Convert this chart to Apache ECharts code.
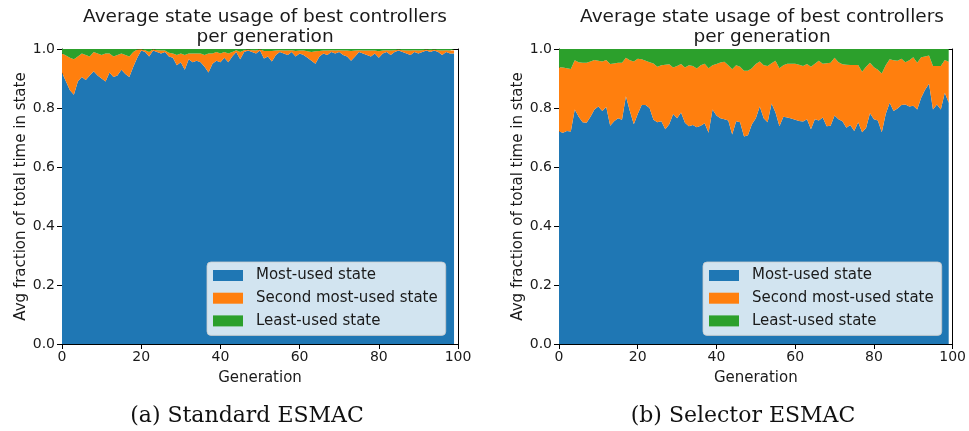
<!DOCTYPE html>
<html>
<head>
<meta charset="utf-8">
<script src="https://cdn.jsdelivr.net/npm/echarts@6/dist/echarts.min.js"></script>
<style>
html,body{margin:0;padding:0;background:#fff;}
#chart{width:969px;height:431px;}
</style>
</head>
<body>
<div id="chart"></div>
<script>
// ---- data ----
const seriesNames = ['Most-used state', 'Second most-used state', 'Least-used state'];
const xTickStep = 20;
const yTicks = [0.0, 0.2, 0.4, 0.6, 0.8, 1.0];
// generation categories 0..100 (data exists for 0..99)
const generations = Array.from({length: 101}, (_, i) => String(i));

// (a) Standard ESMAC
const stdMost = [0.92,0.89,0.86,0.845,0.89,0.905,0.895,0.91,0.925,0.91,0.9,0.89,0.92,0.905,0.91,0.93,0.915,0.905,0.94,0.97,
0.995,0.99,0.975,0.995,0.99,0.985,0.99,0.975,0.97,0.945,0.955,0.93,0.965,0.955,0.96,0.955,0.94,0.92,0.95,0.96,
0.955,0.97,0.955,0.975,0.99,0.965,0.99,0.995,0.99,0.985,0.995,0.968,0.975,0.958,0.98,0.99,0.985,0.98,0.99,0.975,
0.985,0.98,0.97,0.96,0.95,0.975,0.985,0.98,0.99,0.985,0.99,0.98,0.975,0.96,0.975,0.99,0.985,0.98,0.975,0.985,
0.97,0.985,0.99,0.98,0.99,0.995,0.99,0.985,0.98,0.99,0.985,0.99,0.995,0.99,0.995,0.99,0.98,0.99,0.985,0.985];
const stdSecond = [0.065,0.088,0.11,0.12,0.085,0.08,0.085,0.065,0.065,0.075,0.08,0.095,0.065,0.07,0.07,0.055,0.065,0.07,0.05,0.028,
0.004,0.006,0.015,0.004,0.006,0.01,0.005,0.012,0.015,0.035,0.03,0.05,0.02,0.03,0.025,0.03,0.04,0.065,0.035,0.03,
0.03,0.02,0.03,0.015,0.006,0.025,0.006,0.003,0.006,0.01,0.004,0.025,0.018,0.035,0.015,0.006,0.01,0.015,0.006,0.018,
0.01,0.015,0.022,0.03,0.042,0.018,0.01,0.015,0.006,0.01,0.006,0.015,0.02,0.033,0.02,0.006,0.01,0.015,0.02,0.01,
0.022,0.01,0.006,0.015,0.006,0.003,0.006,0.01,0.015,0.006,0.01,0.006,0.003,0.006,0.003,0.006,0.015,0.006,0.01,0.01];
const stdLeast = [0.015,0.022,0.03,0.035,0.025,0.015,0.02,0.025,0.01,0.015,0.02,0.015,0.015,0.025,0.02,0.015,0.02,0.025,0.01,0.002,
0.001,0.004,0.01,0.001,0.004,0.005,0.005,0.013,0.015,0.02,0.015,0.02,0.015,0.015,0.015,0.015,0.02,0.015,0.015,0.01,
0.015,0.01,0.015,0.01,0.004,0.01,0.004,0.002,0.004,0.005,0.001,0.007,0.007,0.007,0.005,0.004,0.005,0.005,0.004,0.007,
0.005,0.005,0.008,0.01,0.008,0.007,0.005,0.005,0.004,0.005,0.004,0.005,0.005,0.007,0.005,0.004,0.005,0.005,0.005,0.005,
0.008,0.005,0.004,0.005,0.004,0.002,0.004,0.005,0.005,0.004,0.005,0.004,0.002,0.004,0.002,0.004,0.005,0.004,0.005,0.005];

// (b) Selector ESMAC
const selMost = [0.72,0.716,0.722,0.72,0.795,0.77,0.752,0.75,0.77,0.795,0.805,0.79,0.803,0.74,0.755,0.765,0.76,0.84,0.79,0.745,
0.78,0.81,0.81,0.8,0.76,0.752,0.755,0.728,0.745,0.78,0.765,0.785,0.75,0.738,0.742,0.735,0.74,0.748,0.716,0.795,
0.775,0.765,0.762,0.758,0.71,0.755,0.752,0.703,0.708,0.745,0.765,0.805,0.765,0.752,0.815,0.785,0.738,0.77,0.768,0.764,
0.76,0.756,0.754,0.762,0.728,0.762,0.758,0.768,0.738,0.74,0.775,0.762,0.755,0.733,0.742,0.722,0.752,0.718,0.732,0.782,
0.762,0.758,0.718,0.78,0.818,0.79,0.798,0.81,0.812,0.805,0.808,0.795,0.835,0.862,0.882,0.795,0.812,0.795,0.852,0.818];
const selSecond = [0.218,0.221,0.213,0.212,0.167,0.185,0.201,0.203,0.188,0.168,0.155,0.168,0.16,0.209,0.196,0.188,0.193,0.13,0.172,0.213,
0.187,0.155,0.15,0.155,0.191,0.188,0.19,0.219,0.203,0.157,0.177,0.164,0.187,0.207,0.2,0.199,0.205,0.202,0.219,0.15,
0.174,0.189,0.195,0.187,0.221,0.19,0.188,0.223,0.218,0.19,0.184,0.153,0.18,0.19,0.137,0.175,0.197,0.175,0.182,0.186,
0.19,0.191,0.188,0.187,0.212,0.188,0.202,0.182,0.214,0.213,0.195,0.193,0.193,0.214,0.204,0.224,0.194,0.205,0.208,0.171,
0.176,0.172,0.199,0.165,0.147,0.172,0.162,0.157,0.143,0.157,0.164,0.158,0.137,0.113,0.096,0.147,0.13,0.147,0.111,0.139];
const selLeast = [0.062,0.063,0.065,0.068,0.038,0.045,0.047,0.047,0.042,0.037,0.04,0.042,0.037,0.051,0.049,0.047,0.047,0.03,0.038,0.042,
0.033,0.035,0.04,0.045,0.049,0.06,0.055,0.053,0.052,0.063,0.058,0.051,0.063,0.055,0.058,0.066,0.055,0.05,0.065,0.055,
0.051,0.046,0.043,0.055,0.069,0.055,0.06,0.074,0.074,0.065,0.051,0.042,0.055,0.058,0.048,0.04,0.065,0.055,0.05,0.05,
0.05,0.053,0.058,0.051,0.06,0.05,0.04,0.05,0.048,0.047,0.03,0.045,0.052,0.053,0.054,0.054,0.054,0.077,0.06,0.047,
0.062,0.07,0.083,0.055,0.035,0.038,0.04,0.033,0.045,0.038,0.028,0.047,0.028,0.025,0.022,0.058,0.058,0.058,0.037,0.043];

const titleText = 'Average state usage of best controllers\nper generation';
const captions = ['(a) Standard ESMAC', '(b) Selector ESMAC'];
const colors = ['#1f77b4', '#ff7f0e', '#2ca02c'];

// ---- chart ----
const chart = echarts.init(document.getElementById('chart'), null, {renderer: 'canvas'});
const sans = 'DejaVu Sans';
const textColor = '#1a1a1a';

const grids = [
  {left: 62, width: 396, top: 49, height: 295},
  {left: 559, width: 396, top: 49, height: 295}
];

const xAxes = [], yAxes = [], series = [], titles = [], legends = [];
const datasets = [[stdMost, stdSecond, stdLeast], [selMost, selSecond, selLeast]];
const legendPos = [{left: 207, top: 262}, {left: 703, top: 262}];
const captionCenters = [242, 738];
const everyStep = (idx) => idx % xTickStep === 0;

grids.forEach((g, gi) => {
  xAxes.push({
    type: 'category', gridIndex: gi, data: generations, boundaryGap: false,
    position: 'bottom',
    name: 'Generation', nameLocation: 'middle', nameGap: 27,
    nameTextStyle: {fontFamily: sans, fontSize: 15, color: textColor},
    axisLine: {show: true, onZero: false, lineStyle: {color: '#000', width: 1}},
    axisTick: {show: true, length: 5, interval: everyStep, lineStyle: {color: '#000'}},
    axisLabel: {fontFamily: sans, fontSize: 14, color: textColor, margin: 6, interval: everyStep, showMaxLabel: true},
    splitLine: {show: false}
  });
  xAxes.push({
    type: 'value', gridIndex: gi, min: 0, max: 100, position: 'top',
    axisLine: {show: true, onZero: false, lineStyle: {color: '#000', width: 1}},
    axisTick: {show: false}, axisLabel: {show: false}, splitLine: {show: false}
  });
  yAxes.push({
    type: 'value', gridIndex: gi, min: yTicks[0], max: yTicks[yTicks.length - 1], interval: 0.2,
    position: 'left',
    name: 'Avg fraction of total time in state', nameLocation: 'middle', nameGap: 27,
    nameTextStyle: {fontFamily: sans, fontSize: 15, color: textColor},
    axisLine: {show: true, onZero: false, lineStyle: {color: '#000', width: 1}},
    axisTick: {show: true, length: 5, lineStyle: {color: '#000'}},
    axisLabel: {fontFamily: sans, fontSize: 14, color: textColor, margin: 7,
      formatter: v => v.toFixed(1)},
    splitLine: {show: false}
  });
  yAxes.push({
    type: 'value', gridIndex: gi, min: 0, max: 1, position: 'right',
    axisLine: {show: true, onZero: false, lineStyle: {color: '#000', width: 1}},
    axisTick: {show: false}, axisLabel: {show: false}, splitLine: {show: false}
  });
  datasets[gi].forEach((arr, si) => {
    series.push({
      type: 'line', name: seriesNames[si], xAxisIndex: gi * 2, yAxisIndex: gi * 2,
      stack: 'grid' + gi, data: arr.slice(), showSymbol: false, symbol: 'none',
      lineStyle: {width: 0}, areaStyle: {color: colors[si], opacity: 1},
      color: colors[si], z: 1, silent: true
    });
  });
  titles.push({
    text: titleText, left: g.left + g.width / 2, top: 2, textAlign: 'center',
    textStyle: {fontFamily: sans, fontSize: 18.5, fontWeight: 'normal', color: textColor, lineHeight: 20}
  });
  titles.push({
    text: captions[gi], left: captionCenters[gi], top: 400, textAlign: 'center',
    textStyle: {fontFamily: 'DejaVu Serif', fontSize: 22, fontWeight: 'normal', color: '#111', lineHeight: 22}
  });
  legends.push({
    data: seriesNames, left: legendPos[gi].left, top: legendPos[gi].top, orient: 'vertical',
    icon: 'rect', itemWidth: 30, itemHeight: 11, itemGap: 5.7,
    padding: [5, 8, 6, 6],
    backgroundColor: 'rgba(255,255,255,0.8)', borderColor: 'rgba(204,204,204,0.8)', borderWidth: 1, borderRadius: 4,
    textStyle: {fontFamily: sans, fontSize: 15, color: textColor, lineHeight: 17, padding: [0, 0, 0, 8]},
    selectedMode: false
  });
});

chart.setOption({
  animation: false,
  backgroundColor: '#fff',
  title: titles,
  legend: legends,
  grid: grids,
  xAxis: xAxes,
  yAxis: yAxes,
  series: series
});
</script>
</body>
</html>
